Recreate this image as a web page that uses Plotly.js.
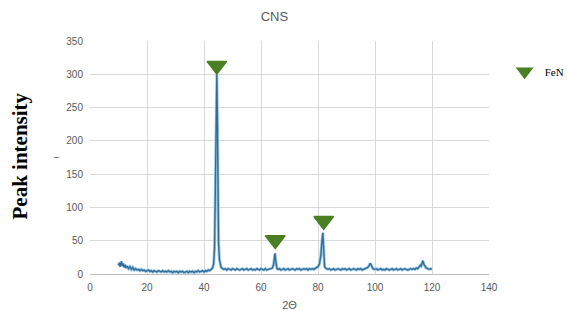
<!DOCTYPE html>
<html>
<head>
<meta charset="utf-8">
<script src="https://cdn.plot.ly/plotly-3.0.1.min.js"></script>
<style>html,body{margin:0;padding:0;background:#fff;}#chart{width:567px;height:311px;}</style>
</head>
<body>
<div id="chart"></div>
<script>
// XRD pattern (2θ, intensity)
const twoTheta = [
  10,10.3,10.6,11,11.3,11.6,12,12.3,12.6,13,13.5,14,14.5,15,15.5,16,16.5,17,17.5,18,18.5,19,19.5,20,
  20.5,21,21.5,22,22.5,23,23.5,24,24.5,25,25.5,26,26.5,27,27.5,28,28.5,29,29.5,30,30.5,31,31.5,32,32.5,33,
  33.5,34,34.5,35,35.5,36,36.5,37,37.5,38,38.5,39,39.5,40,40.5,41,41.5,42,42.5,43,43.4,43.7,43.9,44.1,44.3,
  44.5,44.7,44.9,45.1,45.4,45.7,46,46.5,47,47.5,48,48.5,49,49.5,50,50.5,51,51.5,52,52.5,53,53.5,54,54.5,55,
  55.5,56,56.5,57,57.5,58,58.5,59,59.5,60,60.5,61,61.5,62,62.5,63,63.5,64,64.4,64.7,64.9,65.1,65.3,65.6,66,
  66.5,67,67.5,68,68.5,69,69.5,70,70.5,71,71.5,72,72.5,73,73.5,74,74.5,75,75.5,76,76.5,77,77.5,78,78.5,79,
  79.5,80,80.5,81,81.4,81.7,81.9,82.1,82.3,82.6,83,83.5,84,84.5,85,85.5,86,86.5,87,87.5,88,88.5,89,89.5,90,
  90.5,91,91.5,92,92.5,93,93.5,94,94.5,95,95.5,96,96.5,97,97.5,98,98.3,98.6,98.9,99.3,99.7,100,100.5,101,
  101.5,102,102.5,103,103.5,104,104.5,105,105.5,106,106.5,107,107.5,108,108.5,109,109.5,110,110.5,111,111.5,
  112,112.5,113,113.5,114,114.5,115,115.3,115.6,115.9,116.2,116.5,116.8,117.2,117.6,118,118.5,119,119.5,120
];
const intensity = [
  13,17,11,19,12,16,10,14,9,12,8,11,7,10,6,8,6,7,5,7,5,6,4,5,
  6,4,5,3,5,4,3,5,4,3,5,3,4,3,5,3,4,2,4,3,4,2,4,3,4,2,
  3,4,2,4,3,4,2,4,3,5,3,4,5,3,5,4,6,5,7,9,16,40,100,210,290,
  300,235,120,48,22,13,10,8,7,8,6,8,7,6,8,7,6,8,7,6,7,8,6,7,8,
  6,7,8,6,7,6,8,7,6,8,7,6,8,6,7,7,8,9,14,24,31,22,12,8,
  7,8,6,7,8,6,7,8,6,7,8,7,6,8,7,8,6,7,8,7,8,6,8,7,8,7,
  8,9,11,15,28,50,62,44,22,12,9,8,7,8,6,7,8,6,7,8,7,6,8,7,8,
  6,7,8,6,7,8,7,6,8,7,8,6,7,8,9,10,13,16,14,10,8,7,7,8,
  6,7,8,6,7,6,8,7,6,7,8,6,7,8,6,7,8,6,7,8,7,6,7,8,
  7,8,7,9,8,10,11,13,12,15,20,14,11,9,8,7,8,7,9,7
];
// FeN peak markers
const fenX = [44.5, 65, 82];
const fenY = [313, 51, 80];
const xTicks = [0, 20, 40, 60, 80, 100, 120, 140];
const yTicks = [0, 50, 100, 150, 200, 250, 300, 350];

const tickFont = {family: 'Liberation Sans Narrow, Liberation Sans, Arial', size: 10, color: '#595959'};

const traces = [
  {x: twoTheta, y: intensity, type: 'scatter', mode: 'lines',
   line: {color: '#9ccbea', width: 3}, showlegend: false, hoverinfo: 'skip'},
  {x: twoTheta, y: intensity, type: 'scatter', mode: 'lines',
   line: {color: '#356c96', width: 1.4}, showlegend: false},
  {x: fenX, y: fenY, type: 'scatter', mode: 'markers', name: 'FeN',
   marker: {symbol: 'triangle-down', size: 17, color: '#4b7f24', line: {color: '#4b7f24', width: 1.5}}}
];

const layout = {
  width: 567, height: 311,
  margin: {l: 90, r: 78, t: 41, b: 37, autoexpand: false},
  paper_bgcolor: '#ffffff', plot_bgcolor: '#ffffff',
  title: {text: 'CNS', xref: 'container', x: 0.484, xanchor: 'center', y: 0.948, yanchor: 'middle',
          font: {family: 'Liberation Sans Narrow, Liberation Sans, Arial', size: 13, color: '#595959'}},
  xaxis: {range: [0, 140], tickvals: xTicks, ticktext: xTicks.map(String),
          showgrid: true, gridcolor: '#d9d9d9', gridwidth: 1, zeroline: false,
          showline: true, linecolor: '#bfbfbf', ticks: '', tickfont: tickFont, ticklabelstandoff: 4,
          title: {text: '2Θ', font: {family: 'Liberation Sans Narrow, Liberation Sans, Arial', size: 11, color: '#595959'}, standoff: 10}},
  yaxis: {range: [0, 350], tickvals: yTicks, ticktext: yTicks.map(String),
          showgrid: true, gridcolor: '#d9d9d9', gridwidth: 1, zeroline: false,
          showline: false, ticks: '', tickfont: tickFont, ticklabelstandoff: 6,
          title: {text: 'I', font: {family: 'Liberation Sans', size: 8, color: '#595959'}, standoff: 5}},
  showlegend: true,
  legend: {xref: 'container', yref: 'container', x: 0.89, xanchor: 'left', y: 0.77, yanchor: 'middle',
           bgcolor: 'rgba(0,0,0,0)', itemsizing: 'constant',
           font: {family: 'Liberation Serif, Times New Roman', size: 11, color: '#000'},
           itemwidth: 30},
  annotations: [
    {text: '<b>Peak intensity</b>', xref: 'paper', yref: 'paper', x: -0.175, y: 0.505,
     xanchor: 'center', yanchor: 'middle', textangle: -90, showarrow: false,
     font: {family: 'Liberation Serif, Times New Roman', size: 21, color: '#000'}}
  ]
};

Plotly.newPlot('chart', traces, layout, {displayModeBar: false, staticPlot: true});
</script>
</body>
</html>
